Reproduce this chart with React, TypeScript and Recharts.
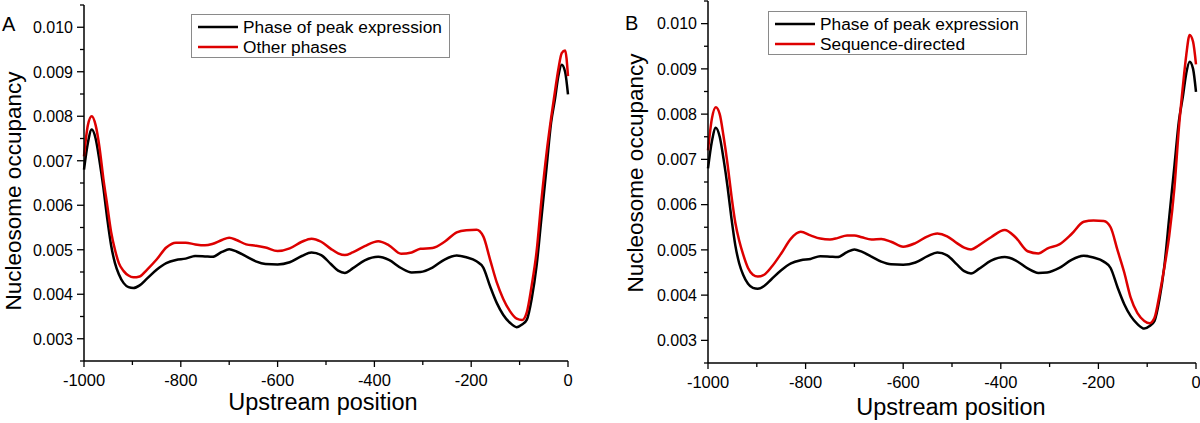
import React from "react";
import { LineChart, Line, XAxis, YAxis, Legend } from "recharts";

const positions = [
  -1000, -992, -984, -976, -968, -960, -952, -944, -936, -928, -918, -908, -898, -885, -870, -850, -830, -810,
  -790, -770, -750, -735, -715, -700, -685, -665, -645, -625, -600, -575, -550, -530, -510, -490, -475, -461,
  -445, -420, -392, -370, -345, -323, -305, -280, -255, -230, -210, -189, -175, -161, -147, -134, -120, -106,
  -95, -85, -75, -65, -55, -44, -35, -27, -20, -13, -6, 0,
];

const peakPhase = [
  0.0068, 0.0074, 0.0077, 0.0075, 0.007, 0.0064, 0.0057, 0.0051, 0.0047, 0.00445, 0.00425, 0.00416, 0.00414,
  0.0042, 0.00435, 0.00455, 0.0047, 0.00477, 0.0048, 0.00486, 0.00485, 0.00484, 0.00495, 0.00501, 0.00496,
  0.00485, 0.00474, 0.00468, 0.00467, 0.00472, 0.00486, 0.00494, 0.00488, 0.00468, 0.00453, 0.00448, 0.00458,
  0.00476, 0.00484, 0.00477, 0.00459, 0.00449, 0.0045, 0.0046, 0.00478, 0.00487, 0.00483, 0.00474, 0.0046,
  0.00418, 0.0038, 0.00354, 0.00336, 0.00326, 0.00332, 0.00343, 0.0039, 0.00463, 0.0057, 0.00688, 0.00785,
  0.00838, 0.0089, 0.00916, 0.009, 0.00849,
];

const otherPhases = [
  0.0071, 0.0078, 0.008, 0.0078, 0.0073, 0.0066, 0.006, 0.0054, 0.005, 0.0047, 0.00452, 0.00442, 0.00438,
  0.0044, 0.00455, 0.00478, 0.00505, 0.00516, 0.00516, 0.00512, 0.0051, 0.00513, 0.00522, 0.00527, 0.00522,
  0.00512, 0.00509, 0.00505, 0.00497, 0.00503, 0.00518, 0.00525, 0.00518, 0.00502, 0.00492, 0.00488, 0.00494,
  0.00508, 0.00519, 0.0051, 0.00491, 0.00494, 0.00502, 0.00504, 0.00518, 0.00539, 0.00544, 0.00545, 0.0053,
  0.00478, 0.00426, 0.0039, 0.00362, 0.00345, 0.00342, 0.0036, 0.0042, 0.00495, 0.0061, 0.0072, 0.00795,
  0.00855, 0.00905, 0.00942, 0.00948, 0.0089,
];

const sequenceDirected = [
  0.0072, 0.0079, 0.00815, 0.008, 0.0075, 0.0069, 0.0062, 0.0056, 0.0052, 0.0049, 0.0046, 0.00445, 0.00441,
  0.00445, 0.00462, 0.00492, 0.00525, 0.0054, 0.00532, 0.00525, 0.00523, 0.00526, 0.00532, 0.00532, 0.00528,
  0.00523, 0.00524, 0.00518, 0.00507, 0.00515, 0.0053, 0.00536, 0.0053, 0.00515, 0.00505, 0.00501, 0.0051,
  0.00528, 0.00544, 0.00528, 0.00497, 0.00492, 0.00503, 0.00512, 0.00535, 0.00562, 0.00565, 0.00564, 0.0055,
  0.005, 0.0045, 0.00395, 0.0036, 0.00343, 0.00338, 0.0035, 0.004, 0.0046, 0.0053, 0.0064, 0.0077, 0.0086,
  0.0093, 0.00975, 0.0096, 0.0091,
];

const xTicks = [-1000, -900, -800, -700, -600, -500, -400, -300, -200, -100, 0];
const yTicks = [
  0.0025, 0.003, 0.0035, 0.004, 0.0045, 0.005, 0.0055, 0.006, 0.0065, 0.007, 0.0075, 0.008, 0.0085, 0.009,
  0.0095, 0.01, 0.0105,
];

const FONT = '"Liberation Sans", Arial, sans-serif';
const RED = "#dd0000";

const dataA = positions.map((p, i) => ({ pos: p, peak: peakPhase[i], other: otherPhases[i] }));
const dataB = positions.map((p, i) => ({ pos: p, peak: peakPhase[i], seq: sequenceDirected[i] }));

const YTick = (props: any) => {
  const { x, y, payload } = props;
  const v = payload.value;
  const major = Math.abs(v * 1000 - Math.round(v * 1000)) < 1e-6;
  return (
    <g>
      <line x1={x} x2={x - (major ? 7 : 4)} y1={y} y2={y} stroke="#000" strokeWidth={1.3} />
      {major && (
        <text x={x - 11} y={y} dy="0.36em" textAnchor="end" fontSize={16} fontFamily={FONT} fill="#000">
          {v.toFixed(3)}
        </text>
      )}
    </g>
  );
};

const XTick = (props: any) => {
  const { x, y, payload } = props;
  const v = payload.value;
  const major = v % 200 === 0;
  return (
    <g>
      <line x1={x} x2={x} y1={y} y2={y + (major ? 6 : 4)} stroke="#000" strokeWidth={1.3} />
      {major && (
        <text x={x} y={y + 25} textAnchor="middle" fontSize={16.5} fontFamily={FONT} fill="#000">
          {v}
        </text>
      )}
    </g>
  );
};

// black series always listed first, like the original figure
const legendBox = (props: any) => {
  const items = [...props.payload].sort((a: any, b: any) => (a.dataKey === "peak" ? -1 : b.dataKey === "peak" ? 1 : 0));
  return (
    <div
      style={{
        border: "1px solid #8a8a8a",
        background: "#fff",
        padding: "2px 7px 0 6px",
        fontFamily: FONT,
        fontSize: 17.3,
        lineHeight: "20px",
        whiteSpace: "nowrap",
      }}
    >
      {items.map((item: any) => (
        <div key={item.value} style={{ display: "flex", alignItems: "center", height: 20 }}>
          <svg width={40} height={6} style={{ marginRight: 5 }}>
            <line x1={0} x2={40} y1={3} y2={3} stroke={item.color} strokeWidth={2.5} />
          </svg>
          <span>{item.value}</span>
        </div>
      ))}
    </div>
  );
};

const Panel = ({
  data,
  secondKey,
  secondName,
  yWidth,
  xHeight,
  margin,
  legendPos,
}: {
  data: any[];
  secondKey: string;
  secondName: string;
  yWidth: number;
  xHeight: number;
  margin: { top: number; right: number; bottom: number; left: number };
  legendPos: { left: number; top: number };
}) => (
  <LineChart width={600} height={423} data={data} margin={margin}>
    <XAxis
      type="number"
      dataKey="pos"
      domain={[-1000, 0]}
      ticks={xTicks}
      interval={0}
      tickSize={0}
      tickMargin={0}
      tickLine={false}
      tick={(p: any) => <XTick {...p} />}
      axisLine={{ stroke: "#000", strokeWidth: 1.5 }}
      height={xHeight}
    />
    <YAxis
      type="number"
      domain={[0.0025, 0.0105]}
      ticks={yTicks}
      interval={0}
      allowDataOverflow
      tickSize={0}
      tickMargin={0}
      tickLine={false}
      tick={(p: any) => <YTick {...p} />}
      axisLine={{ stroke: "#000", strokeWidth: 1.5 }}
      width={yWidth}
    />
    <Legend
      layout="horizontal"
      verticalAlign="middle"
      align="center"
      content={legendBox}
      wrapperStyle={{ left: legendPos.left, top: legendPos.top, width: "auto" }}
    />
    <Line
      type="monotone"
      dataKey="peak"
      name="Phase of peak expression"
      stroke="#000"
      strokeWidth={2.5}
      dot={false}
      activeDot={false}
      isAnimationActive={false}
    />
    <Line
      type="monotone"
      dataKey={secondKey}
      name={secondName}
      stroke={RED}
      strokeWidth={2.5}
      dot={false}
      activeDot={false}
      isAnimationActive={false}
    />
  </LineChart>
);

export default function App() {
  return (
    <div style={{ position: "absolute", left: 0, top: 0, width: 1200, height: 423, background: "#fff" }}>
      <div style={{ position: "absolute", left: 0, top: 0 }}>
        <Panel
          data={dataA}
          secondKey="other"
          secondName="Other phases"
          yWidth={84}
          xHeight={62}
          margin={{ top: 5, right: 32, bottom: 0, left: 0 }}
          legendPos={{ left: 191, top: 14 }}
        />
      </div>
      <div style={{ position: "absolute", left: 600, top: 0 }}>
        <Panel
          data={dataB}
          secondKey="seq"
          secondName="Sequence-directed"
          yWidth={108}
          xHeight={60}
          margin={{ top: 1, right: 4, bottom: 0, left: 0 }}
          legendPos={{ left: 168, top: 11 }}
        />
      </div>
      <svg
        width={1200}
        height={423}
        style={{ position: "absolute", left: 0, top: 0, pointerEvents: "none" }}
        fontFamily={FONT}
      >
        <text x={2} y={30.5} fontSize={20} fill="#000">A</text>
        <text x={625} y={30} fontSize={20} fill="#000">B</text>
        <text transform="translate(20.5,191) rotate(-90)" textAnchor="middle" fontSize={22.5} fill="#000">
          Nucleosome occupancy
        </text>
        <text transform="translate(643,173) rotate(-90)" textAnchor="middle" fontSize={22.5} fill="#000">
          Nucleosome occupancy
        </text>
        <text x={323} y={410} textAnchor="middle" fontSize={23.5} fill="#000">
          Upstream position
        </text>
        <text x={951} y={415} textAnchor="middle" fontSize={23.5} fill="#000">
          Upstream position
        </text>
      </svg>
    </div>
  );
}
